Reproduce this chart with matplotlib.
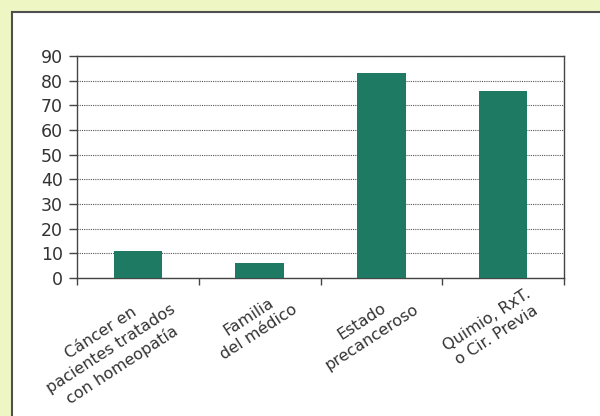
import matplotlib
matplotlib.use("Agg")
import matplotlib.pyplot as plt
from matplotlib.patches import Rectangle
from matplotlib.transforms import ScaledTranslation, blended_transform_factory

categories = ["Cáncer en\npacientes tratados\ncon homeopatía",
              "Familia\ndel médico",
              "Estado\nprecanceroso",
              "Quimio, RxT.\no Cir. Previa"]
values = [11, 6, 83, 76]
yticks = [0, 10, 20, 30, 40, 50, 60, 70, 80, 90]

bar_color = "#1f7a63"
line_color = "#454545"

fig = plt.figure(figsize=(6, 4.16), dpi=100)
fig.patch.set_facecolor("#eef6c4")

# white card with dark top/left edge
W, H = 600, 416
fig.patches.append(Rectangle((12 / W, 0), 1 - 12 / W, 1 - 12 / H,
                             transform=fig.transFigure, facecolor="white",
                             edgecolor="none", zorder=-2))
fig.add_artist(plt.Line2D([12 / W, 1], [1 - 12 / H, 1 - 12 / H],
                          transform=fig.transFigure, color="#505050", lw=1.5,
                          zorder=-1))
fig.add_artist(plt.Line2D([12 / W, 12 / W], [0, 1 - 12 / H],
                          transform=fig.transFigure, color="#505050", lw=1.5,
                          zorder=-1))

ax = fig.add_axes([77 / W, 1 - 278 / H, (564 - 77) / W, (278 - 56) / H])
ax.set_facecolor("white")

x = range(len(values))
ax.bar(x, values, width=0.4, color=bar_color, zorder=3)

ax.set_xlim(-0.5, len(values) - 0.5)
ax.set_ylim(0, 90)
ax.set_yticks(yticks)
ax.yaxis.grid(True, linestyle=(0, (1, 1)), color="#555555", lw=0.8, zorder=1)

# ticks between categories, labels under each bar
ax.set_xticks([i - 0.5 for i in range(len(values) + 1)])
ax.set_xticklabels([])
ax.tick_params(axis="x", direction="out", length=5, width=1, color=line_color)
ax.tick_params(axis="y", direction="out", length=6, width=1, color=line_color,
               labelsize=12.5, labelcolor="#333333", pad=4)

for s in ax.spines.values():
    s.set_color(line_color)
    s.set_linewidth(1)

trans = blended_transform_factory(ax.transData, ax.transAxes)
offset = ScaledTranslation(22 / 100, -8 / 100, fig.dpi_scale_trans)
for i, label in enumerate(categories):
    ax.text(i, 0, label, transform=trans + offset, rotation=33,
            rotation_mode="anchor", ha="right", va="top",
            multialignment="center", linespacing=1.3,
            fontsize=11.5, color="#333333")

fig.savefig("out.png", dpi=100, facecolor=fig.get_facecolor())
